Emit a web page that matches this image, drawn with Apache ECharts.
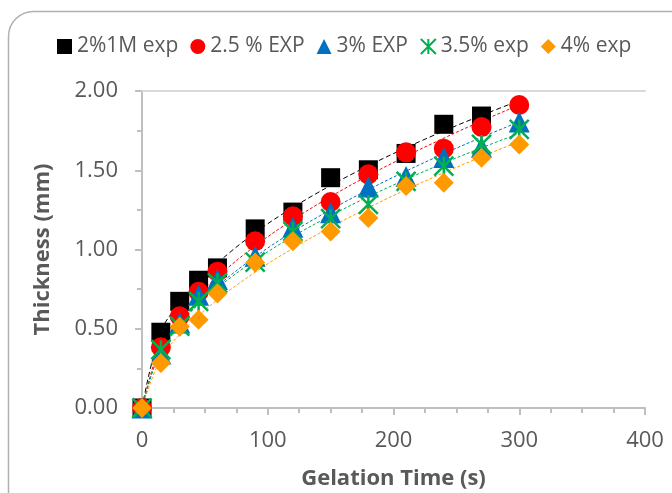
<!DOCTYPE html>
<html>
<head>
<meta charset="utf-8">
<script src="https://cdn.jsdelivr.net/npm/echarts@6/dist/echarts.min.js"></script>
<style>
html,body{margin:0;padding:0;background:#fff;}
#c{width:672px;height:493px;}
</style>
</head>
<body>
<div id="c"></div>
<script>
// ---- data ----
var times = [0, 15, 30, 45, 60, 90, 120, 150, 180, 210, 240, 270, 300];
var seriesNames = ['2%1M exp', '2.5 % EXP', '3% EXP', '3.5% exp', '4% exp'];
var s2_1M = [0, 0.478, 0.673, 0.806, 0.884, 1.130, 1.236, 1.453, 1.503, 1.606, 1.790, 1.842];
var s2_5  = [0, 0.383, 0.579, 0.733, 0.860, 1.052, 1.210, 1.300, 1.474, 1.613, 1.636, 1.773, 1.912];
var s3    = [0, 0.340, 0.537, 0.711, 0.810, 0.958, 1.140, 1.232, 1.395, 1.460, 1.580, 1.645, 1.804];
var s3_5  = [0, 0.368, 0.516, 0.673, 0.790, 0.920, 1.115, 1.195, 1.284, 1.430, 1.526, 1.663, 1.758];
var s4    = [0, 0.284, 0.512, 0.556, 0.722, 0.918, 1.052, 1.114, 1.198, 1.400, 1.421, 1.579, 1.663];
var yTicks = ['0.00', '0.50', '1.00', '1.50', '2.00'];
var xTicks = ['0', '100', '200', '300', '400'];

var colors = ['#000000', '#ff0000', '#0070c0', '#00b050', '#ff9900'];
var allData = [s2_1M, s2_5, s3, s3_5, s4];
var starPath = 'path://M0,0L10,10M10,0L0,10M5,0L5,10';
var symbols = ['rect', 'circle', 'triangle', starPath, 'diamond'];
var symbolSizes = [19, 20, 21, 19, 20];

// Power-law trendline (least squares in log space), like the spreadsheet's trendline
function powerFit(ys) {
  var n = 0, sx = 0, sy = 0, sxx = 0, sxy = 0;
  for (var i = 0; i < ys.length; i++) {
    if (times[i] > 0 && ys[i] > 0) {
      var lx = Math.log(times[i]), ly = Math.log(ys[i]);
      n++; sx += lx; sy += ly; sxx += lx * lx; sxy += lx * ly;
    }
  }
  var b = (n * sxy - sx * sy) / (n * sxx - sx * sx);
  var a = Math.exp((sy - b * sx) / n);
  return times.map(function (t) { return [t, t > 0 ? a * Math.pow(t, b) : 0]; });
}

var series = [];
allData.forEach(function (d, k) {
  series.push({
    type: 'line', silent: true, smooth: 0.4, showSymbol: false, z: 1,
    data: powerFit(d),
    lineStyle: { color: colors[k], width: 1, type: k === 0 ? [5, 3] : [3, 2] },
    tooltip: { show: false }
  });
});
allData.forEach(function (d, k) {
  var star = k === 3;
  series.push({
    name: seriesNames[k], type: 'scatter', z: 3 + k,
    symbol: symbols[k], symbolSize: symbolSizes[k],
    data: d.map(function (v, i) { return [times[i], v]; }),
    itemStyle: star
      ? { color: 'rgba(0,0,0,0)', borderColor: colors[k], borderWidth: 2.5, opacity: 1 }
      : { color: colors[k], opacity: 1 }
  });
});

var chart = echarts.init(document.getElementById('c'));
var font = 'Open Sans';
chart.setOption({
  backgroundColor: '#ffffff',
  animation: false,
  textStyle: { fontFamily: font },
  graphic: [{
    type: 'rect', z: -10, silent: true,
    shape: { x: 8.5, y: 11.5, width: 720, height: 540, r: 25 },
    style: { fill: 'none', stroke: '#b0b0b0', lineWidth: 1.5 }
  }],
  legend: {
    left: 57, top: 36, padding: 0,
    itemWidth: 15, itemHeight: 15, itemGap: 12,
    textStyle: { fontSize: 21, color: '#595959', fontFamily: font },
    data: seriesNames.map(function (n, k) {
      return { name: n, icon: symbols[k] };
    })
  },
  grid: { left: 142, right: 27, top: 91, bottom: 85, containLabel: false, outerBoundsMode: 'none' },
  xAxis: [{
    type: 'value', min: 0, max: 400, interval: 100,
    name: 'Gelation Time (s)', nameLocation: 'middle', nameGap: 60,
    nameTextStyle: { fontSize: 22, fontWeight: 'bold', color: '#595959', fontFamily: font },
    axisLine: { show: true, lineStyle: { color: '#bfbfbf', width: 2 } },
    axisTick: { show: true, inside: false, length: 7, lineStyle: { color: '#bfbfbf', width: 2 } },
    minorTick: { show: true, splitNumber: 4, length: 5, lineStyle: { color: '#bfbfbf', width: 2 } },
    splitLine: { show: false },
    axisLabel: { fontSize: 22, color: '#595959', margin: 22, fontFamily: font,
      formatter: function (v) { return xTicks[Math.round(v / 100)]; } }
  }, {
    type: 'value', min: 0, max: 400, position: 'top',
    axisLine: { show: true, lineStyle: { color: '#d9d9d9', width: 2 } },
    axisTick: { show: false }, axisLabel: { show: false }, splitLine: { show: false }
  }],
  yAxis: {
    type: 'value', min: 0, max: 2, interval: 0.5,
    name: 'Thickness (mm)', nameLocation: 'middle', nameGap: 88,
    nameTextStyle: { fontSize: 22, fontWeight: 'bold', color: '#595959', fontFamily: font },
    axisLine: { show: true, lineStyle: { color: '#bfbfbf', width: 2 } },
    axisTick: { show: true, inside: false, length: 7, lineStyle: { color: '#bfbfbf', width: 2 } },
    minorTick: { show: true, splitNumber: 2, length: 5, lineStyle: { color: '#bfbfbf', width: 2 } },
    splitLine: { show: false },
    axisLabel: { fontSize: 22, color: '#595959', margin: 24, fontFamily: font,
      formatter: function (v) { return yTicks[Math.round(v / 0.5)]; } }
  },
  series: series
});
</script>
</body>
</html>
